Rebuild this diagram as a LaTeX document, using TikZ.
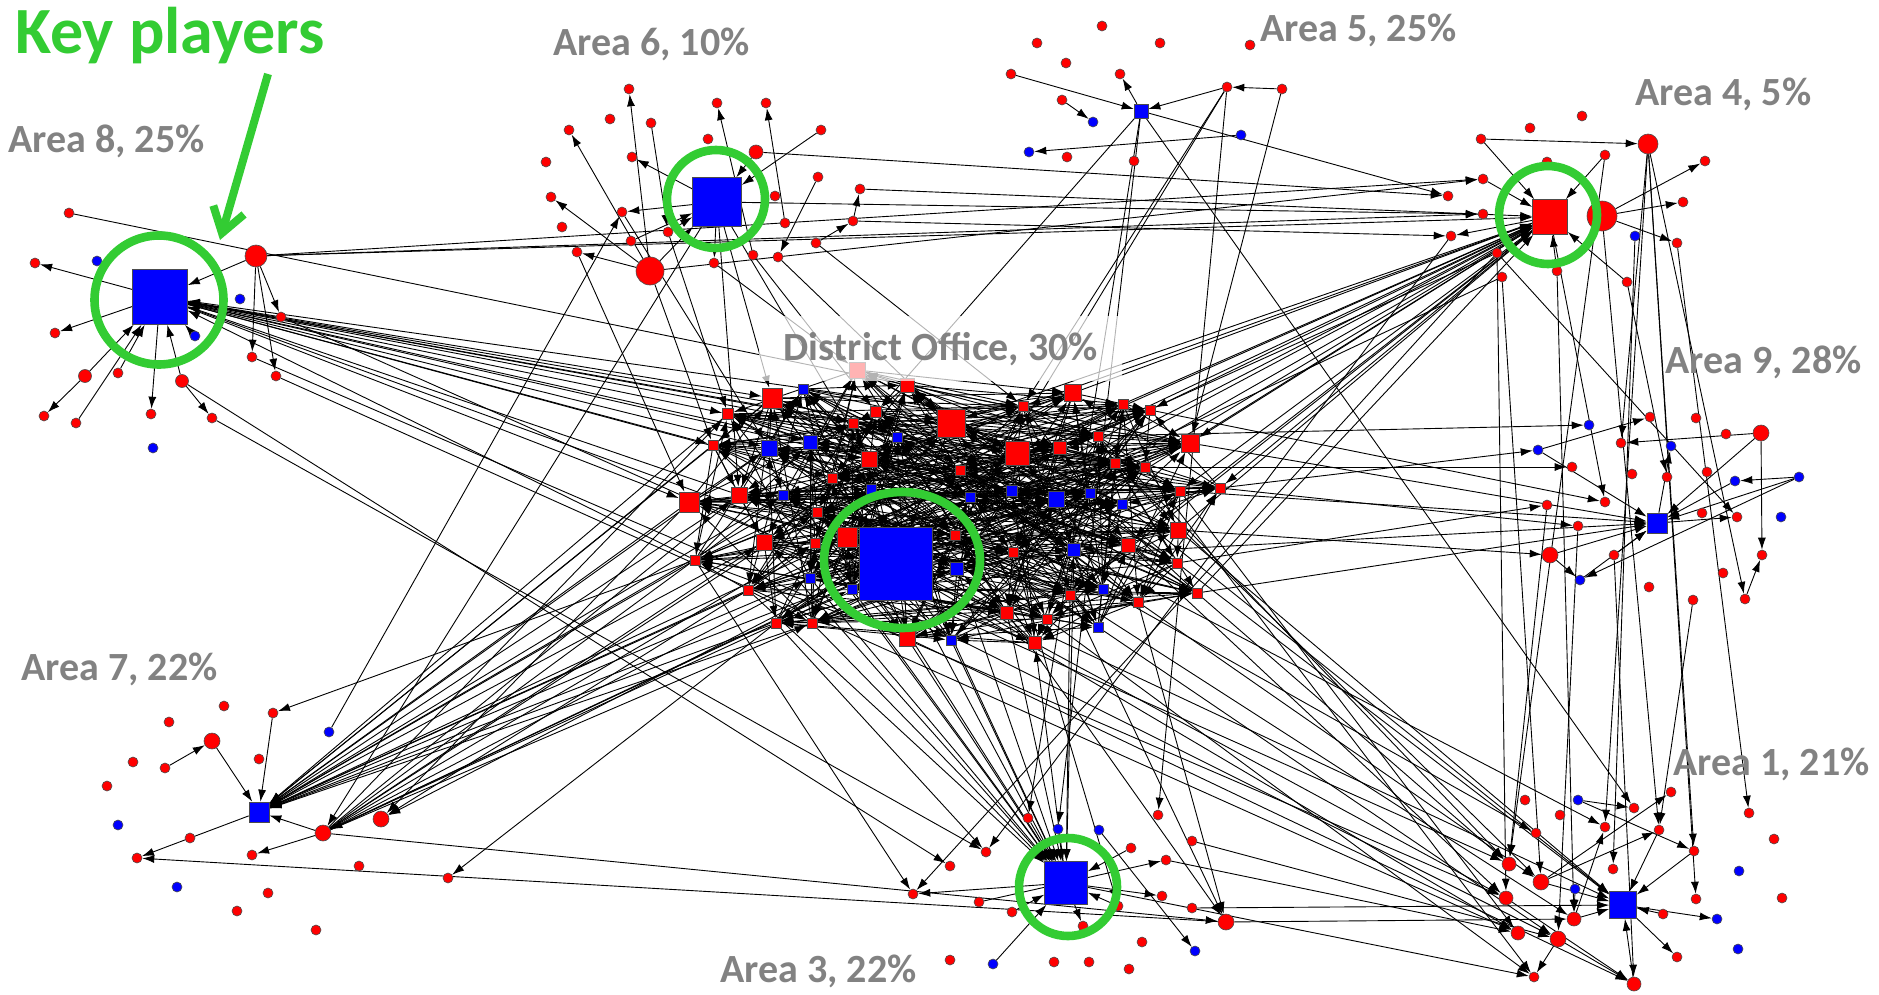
\documentclass[tikz,border=0pt]{standalone}
\usepackage{fontspec}
\setmainfont{Carlito}
\usetikzlibrary{arrows.meta}
\usetikzlibrary{shapes.geometric}
\pgfdeclarelayer{edges}
\pgfsetlayers{edges,main}
\definecolor{keygreen}{RGB}{51,204,51}
\definecolor{labelgray}{RGB}{130,130,130}
\tikzset{
  rdot/.style={circle, fill=red, draw=black!70, line width=0.3pt, inner sep=0pt, minimum size=5pt},
  bdot/.style={rdot, fill=blue},
  sq/.style={rectangle, draw=black!70, line width=0.3pt, inner sep=0pt},
  edge/.style={-{Latex[length=6pt,width=4pt]}, line width=0.45pt, black},
  arealabel/.style={font=\bfseries\fontsize{20}{24}\selectfont, text=labelgray, inner sep=0pt},
  keyring/.style={circle, draw=keygreen, line width=4.3pt, inner sep=0pt},
  keyarrow/.style={draw=keygreen, line width=4pt, -{Straight Barb[length=12pt,width=16pt]}},
}

\begin{document}
\begin{tikzpicture}[x=0.5pt, y=-0.5pt]
    \useasboundingbox (0,0) rectangle (1879,995);

    % Area 8
    \foreach \n/\x/\y/\s in {a8r1/69/213/5, a8r2/35/263/5, a8r3/256/256/11, a8r4/55/333/5, a8r5/85/376/6.5, a8r6/118/373/5, a8r7/182/381/6.5, a8r8/281/317/5, a8r9/252/357/5, a8r10/276/376/5, a8r11/44/416/5, a8r12/76/423/5, a8r13/151/414/5, a8r14/212/418/5}
        \node[rdot, minimum size=\s*1pt] (\n) at (\x,\y) {};
    \foreach \n/\x/\y in {a8b1/97/261, a8b2/240/299, a8b3/195/336, a8b4/153/448}
        \node[bdot] (\n) at (\x,\y) {};
    \node[sq, fill=blue, minimum size=27.5pt] (A8) at (160,297) {};

    % Area 6
    \foreach \n/\x/\y/\s in {a6r1/629/89/5, a6r2/610/119/5, a6r3/651/123/5, a6r4/569/130/5, a6r5/717/103/5, a6r6/766/103/5, a6r7/821/130/5, a6r8/708/139/5, a6r9/756/152/7, a6r10/546/162/5, a6r11/632/157/5, a6r12/818/177/5, a6r13/860/189/5, a6r14/551/197/5, a6r15/775/196/5, a6r16/622/212/5, a6r17/562/227/5, a6r18/668/232/5, a6r19/785/223/5, a6r20/853/221/5, a6r21/631/241/5, a6r22/816/243/5, a6r23/577/252/5, a6r24/650/271/14, a6r25/714/263/5, a6r26/753/255/5, a6r27/778/257/5}
        \node[rdot, minimum size=\s*1pt] (\n) at (\x,\y) {};
    \node[sq, fill=blue, minimum size=24.5pt] (A6) at (717,202) {};

    % Area 5
    \foreach \n/\x/\y in {a5r1/1102/26, a5r2/1037/43, a5r3/1160/43, a5r4/1250/45, a5r5/1066/63, a5r6/1011/74, a5r7/1120/74, a5r8/1227/87, a5r9/1282/89, a5r10/1062/100, a5r11/1067/157, a5r12/1134/161}
        \node[rdot] (\n) at (\x,\y) {};
    \foreach \n/\x/\y in {a5b1/1093/122, a5b2/1241/135, a5b3/1029/152}
        \node[bdot] (\n) at (\x,\y) {};
    \node[sq, fill=blue, minimum size=7pt] (A5) at (1141,111) {};

    % Area 4
    \foreach \n/\x/\y/\s in {a4r0/1602/216/15, a4r1/1648/144/10, a4r2/1481/139/5, a4r3/1530/128/5, a4r4/1582/116/5, a4r5/1605/155/5, a4r6/1705/161/5, a4r7/1483/179/5, a4r8/1448/196/5, a4r9/1483/214/5, a4r10/1451/236/5, a4r11/1683/202/5, a4r12/1677/243/5, a4r13/1497/253/5, a4r14/1502/277/5, a4r15/1557/271/5, a4r16/1627/282/5, a4r17/1547/162/5}
        \node[rdot, minimum size=\s*1pt] (\n) at (\x,\y) {};
    \node[bdot] (a4b1) at (1635,236) {};
    \node[sq, fill=red, minimum size=17.5pt] (A4) at (1550,217) {};

    % Area 9
    \foreach \n/\x/\y/\s in {a9r1/1650/417/5, a9r2/1696/418/5, a9r3/1726/434/5, a9r4/1761/433/8, a9r5/1621/443/5, a9r6/1572/467/5, a9r7/1632/474/5, a9r8/1667/477/5, a9r9/1707/472/5, a9r10/1547/505/5, a9r11/1605/502/5, a9r12/1702/513/5, a9r13/1737/517/5, a9r14/1578/526/5, a9r15/1550/555/8, a9r16/1614/555/5, a9r17/1762/555/5, a9r18/1723/573/5, a9r19/1649/587/5, a9r20/1693/600/5, a9r21/1745/599/5}
        \node[rdot, minimum size=\s*1pt] (\n) at (\x,\y) {};
    \foreach \n/\x/\y in {a9b1/1589/425, a9b2/1538/450, a9b3/1671/446, a9b4/1735/481, a9b5/1799/477, a9b6/1781/517, a9b7/1580/580}
        \node[bdot] (\n) at (\x,\y) {};
    \node[sq, fill=blue, minimum size=10pt] (A9) at (1657,523) {};

    % Area 1
    \foreach \n/\x/\y/\s in {a1r1/1671/792/5, a1r2/1634/808/5, a1r3/1749/813/5, a1r4/1605/827/5, a1r5/1659/830/5, a1r6/1536/833/5, a1r7/1774/839/5, a1r8/1694/851/5, a1r9/1509/864/7, a1r10/1613/869/5, a1r11/1541/882/8, a1r12/1506/898/7, a1r13/1696/899/5, a1r14/1782/898/5, a1r15/1663/914/5, a1r16/1574/919/7, a1r17/1518/933/7, a1r18/1558/939/8, a1r19/1677/957/5, a1r20/1534/977/5, a1r21/1634/984/7, a1r22/1525/800/5, a1r23/1560/815/5}
        \node[rdot, minimum size=\s*1pt] (\n) at (\x,\y) {};
    \foreach \n/\x/\y in {a1b1/1578/800, a1b2/1739/871, a1b3/1575/889, a1b4/1717/919, a1b5/1738/949}
        \node[bdot] (\n) at (\x,\y) {};
    \node[sq, fill=blue, minimum size=13.5pt] (A1) at (1623,905) {};

    % Area 3
    \foreach \n/\x/\y/\s in {a3r1/1028/818/5, a3r2/1158/815/5, a3r3/1192/841/5, a3r4/986/852/5, a3r5/1131/848/5, a3r6/1166/860/5, a3r7/950/866/5, a3r8/913/894/5, a3r9/979/902/5, a3r10/1012/912/5, a3r11/1162/896/5, a3r12/1192/908/5, a3r13/1118/906/5, a3r14/1083/926/5, a3r15/1226/922/8, a3r16/1142/942/5, a3r17/950/960/5, a3r18/1054/962/5, a3r19/1089/962/5, a3r20/1129/969/5}
        \node[rdot, minimum size=\s*1pt] (\n) at (\x,\y) {};
    \foreach \n/\x/\y in {a3b1/1058/829, a3b2/1099/830, a3b3/1195/951, a3b4/993/964}
        \node[bdot] (\n) at (\x,\y) {};
    \node[sq, fill=blue, minimum size=21.5pt] (A3) at (1066,883) {};

    % Area 7
    \foreach \n/\x/\y/\s in {a7r1/224/706/5, a7r2/169/722/5, a7r3/273/713/5, a7r4/212/741/8, a7r5/133/762/5, a7r6/165/768/5, a7r7/259/759/5, a7r8/107/786/5, a7r9/381/819/8, a7r10/323/833/8, a7r11/190/838/5, a7r12/137/858/5, a7r13/252/855/5, a7r14/359/866/5, a7r15/448/878/5, a7r16/268/893/5, a7r17/237/911/5, a7r18/316/930/5}
        \node[rdot, minimum size=\s*1pt] (\n) at (\x,\y) {};
    \foreach \n/\x/\y in {a7b1/329/732, a7b2/118/825, a7b3/177/887}
        \node[bdot] (\n) at (\x,\y) {};
    \node[sq, fill=blue, minimum size=10pt] (A7) at (259,812) {};

    % District Office
    \foreach \n/\x/\y/\s in {1/857/370/8, 2/907/385/7, 3/772/398/10, 4/728/414/5.5, 5/876/412/5.5, 6/1073/393/8.5, 7/951/423/14, 8/853/423/5, 9/1023/406/5, 10/1123/404/5, 11/1150/410/5, 12/1098/436/5, 13/1190/443/9, 14/713/445/5, 15/1017/453/12, 16/1060/448/6.5, 17/869/459/8, 18/1115/463/5, 19/1145/467/5, 20/960/470/5, 21/832/478/5, 22/739/495/8, 23/1180/491/5, 24/817/512/5, 25/764/542/8, 26/847/537/10, 27/955/535/5, 28/1128/545/7, 29/1178/530/8, 30/1013/552/5, 31/1177/563/5, 32/748/590/5, 33/1070/595/5, 34/1138/602/5, 35/1007/613/6.5, 36/1047/619/5, 37/812/623/5, 38/907/638/8, 39/1035/643/6.5, 40/815/543/5, 41/1197/593/5, 42/689/502/10, 43/695/560/5, 44/776/623/5, 45/1220/488/5}
        \node[sq, fill=red, minimum size=\s*1pt] (c\n) at (\x,\y) {};
    \foreach \n/\x/\y/\s in {46/803/389/5, 47/769/448/8, 48/810/442/7, 49/897/437/5, 50/783/495/5, 51/871/489/5, 52/970/497/5, 53/1012/491/5.5, 54/1056/499/8, 55/1090/493/5, 56/1122/504/5, 57/1074/550/6.5, 58/957/569/6.5, 59/810/578/5, 60/852/589/5, 61/1103/589/5, 62/1098/627/5, 63/951/640/5}
        \node[sq, fill=blue, minimum size=\s*1pt] (c\n) at (\x,\y) {};
    \node[sq, fill=blue, minimum size=36.5pt] (DO) at (896,564) {};

    \begin{pgfonlayer}{edges}
        % links inside the areas
        \foreach \src/\dst in {A8/a8r2, A8/a8r4, a8r5/A8, a8r6/A8, a8r5/a8r11, a8r12/A8, A8/a8r13, a8r7/A8, a8r7/a8r14, a8r3/a8r8, a8r3/a8r9, a8r3/a8r10, a8r3/A8, a8b3/A8,
            a6r24/a6r1, a6r24/a6r4, a6r24/a6r14, a6r24/a6r23, a6r24/A6, a6r26/a6r5, a6r19/a6r6, a6r7/A6, A6/a6r16, A6/a6r11, a6r21/A6, a6r18/A6, a6r9/A6, a6r22/a6r20, a6r20/a6r13, a6r12/a6r27, A6/a6r25, a6r3/a6r18,
            a5r6/A5, A5/a5r7, a5r10/a5b1, a5r8/A5, a5r9/a5r8, a5b2/a5b3,
            a4r2/a4r1, a4r2/A4, a4r0/a4r11, a4r0/a4r12, a4r0/a4r6, a4r5/A4, a4r7/A4, a4r16/A4, a4r15/A4, A4/a4r10,
            a9b2/a9r1, a9b2/A9, a9r4/a9r5, a9r4/A9, a9r4/a9r17, a9r21/a9r17, A9/a9b3, a9b5/a9b4, a9b4/A9, a9b5/A9, A9/a9r13, a9r15/A9, a9b7/A9, a9b5/a9b7, a9r15/a9b7, a9r16/A9,
            a1b1/a1r2, a1b1/a1r8, a1r5/A1, a1r8/A1, a1r11/a1r1, a1r11/a1r5, a1r16/a1r4, A1/a1b4, a1r15/A1, A1/a1r19, a1r18/a1r20, a1r18/a1r21, a1r16/A1, a1r11/A1, a1r21/A1, a1r12/a1r21, a1b3/a1r16,
            A3/a3r8, a3b4/A3, a3r9/a3r6, A3/a3r11, a3b2/a3b3, A3/a3r14, a3r5/A3, a3r13/A3, a3r1/A3, a3b1/A3, a3r10/A3,
            a7r6/a7r4, a7r4/A7, a7r3/A7, a7r10/A7, A7/a7r12, a7r10/a7r13}
            \draw[edge] (\src) -- (\dst);

        % links between the areas
        \foreach \src/\dst in {a8r1/c13, a8r3/a4r9, a8r3/a4r7, a8r3/A4, A6/a4r9, a6r24/a4r7, a6r13/A4, a6r20/a4r10, a6r9/a4r8,
            a8r14/a3r4, a8r9/a1r12, a8r10/a1r17, a8r7/a3r7, a8r8/a1r9,
            a4r13/A7, A4/a7r9, a4r14/a7r10, a4r13/a3r8, a4r10/a3r4,
            a4r1/a1r8, a4r1/a1r4, a4r1/a9r21, a4r5/a1r9, a4r0/a1r5, A4/a9r11, a4r12/a1r3, a4r16/a9r8, a4r15/a1r16, a4r1/a9r5, a4r13/a1r12, a4b1/a1r10, a4r13/a9r13, a4r14/a1r11, a4r1/a1r13,
            A5/a4r8, A5/a3r1, A5/a3b1, A5/c5, a5r8/c9, a5r8/c27, a5r8/a3r2, A5/a1r2, a5r9/c13,
            a3r15/a1r16, a3r3/a1r18, A3/a1r20, a3r12/A1, a3r6/a1r17,
            a3r15/a7r12, a7r10/a3r15, c44/a7r15, c32/a7r9, c42/a7r9, c43/a7r3, A6/a7r10, a7b1/a6r16,
            a9r10/a1r9, a9r14/a1r18, a9r16/a1r21, a9r20/a1r5,
            a6r18/c4, a6r25/c1, a6r26/c5, a6r27/c7, a6r22/c9, A6/c17, A6/c3, a6r24/c14, a6r23/c42, A6/c22, a6r16/c47,
            c45/a9b2, c29/a9r15, c31/a9r10, c19/a9r6, c12/a9b1, c11/a9r11, c45/a9r14,
            c41/a1r9, c34/a1r11, c28/a1r12, c33/a1r16, c26/a1r17, c25/a1r18, c38/a1r21, c57/a1r4, c61/a1r6, c62/a1r18, c36/a1r20, c39/a1r12, c23/a1r17, c19/a1r20, c18/a1r11, c12/a1r9,
            c44/a3r4, c43/a3r8, c33/a3r15, c35/a3r15, c34/a3r15, c30/a3r13}
            \draw[edge] (\src) -- (\dst);

        % fans from the district office
        \foreach \h/\lst in {A7/{3,4,14,21,22,25,26,32,37,42,43,44,47,50,59}, A8/{13,19,22,23,29,43,45}, A4/{6,9,10,15,16,28,29,30,41,54,55}, A3/{17,25,26,32,33,35,37,38,40,57,58,59,60,63}, A1/{29,31,56}, A9/{13,23,41}}
            \foreach \i in \lst
                \draw[edge] (c\i) -- (\h);
        \foreach \h/\lst in {A8/{3,4,8,14,21,42,47,48}, A4/{7,11,13,23,33,45}, a7r10/{4,22,24,25,37,40,50,59,60}, A3/{39}}
            \foreach \i in \lst
                \draw[edge] (\h) -- (c\i);
        \foreach \i in {3,13,15,22,38,54,20,58}
            \draw[edge] (DO) -- (c\i);
        \foreach \i in {7,17,25,26,48,51,60}
            \draw[edge] (c\i) -- (DO);
        \foreach \h in {A4,A9,A7,A3,A1}
            \draw[edge] (DO) -- (\h);
        \draw[edge] (A8) -- (DO);
        \draw[edge] (a7r10) -- (DO);

        % the dense core
        \foreach \i in {1,...,63}{
            \foreach \k in {3,5,8,11,14,19,24,29}{
                \pgfmathtruncatemacro\j{mod(\i+\k-1,63)+1}
                \draw[edge] (c\i) -- (c\j);
            }
        }
    \end{pgfonlayer}

    % Labels
    \node[arealabel, anchor=base west] (l8) at (8,153) {Area 8, 25\%};
    \node[arealabel, anchor=base west] (l6) at (553,56) {Area 6, 10\%};
    \node[arealabel, anchor=base west] (l5) at (1260,42) {Area 5, 25\%};
    \node[arealabel, anchor=base west] (l4) at (1635,105) {Area 4, 5\%};
    \node[arealabel, anchor=base west, fill=white, fill opacity=0.7, text opacity=1, inner xsep=12pt, inner ysep=8pt] (ldo) at (759,360) {District Office, 30\%};
    \node[arealabel, anchor=base west] (l9) at (1665,373) {Area 9, 28\%};
    \node[arealabel, anchor=base east] (l7) at (218,680) {Area 7, 22\%};
    \node[arealabel, anchor=base east] (l1) at (1870,775) {Area 1, 21\%};
    \node[arealabel, anchor=base east] (l3) at (917,982) {Area 3, 22\%};

    % Key players
    \node[font=\bfseries\fontsize{33}{40}\selectfont, text=keygreen, anchor=base west, inner sep=0pt] (keytext) at (15,54) {Key players};
    \node[keyring, minimum size=64.5pt] (k8) at (159,300) {};
    \node[keyring, minimum size=49pt] (k6) at (716,199) {};
    \node[keyring, minimum size=49pt] (k4) at (1548,215) {};
    \node[keyring, minimum size=49pt] (k3) at (1068,887) {};
    \node[keyring, ellipse, minimum width=78pt, minimum height=68pt] (kdo) at (902,560) {};
    \coordinate (kpstart) at (268,74);
    \coordinate (kpend) at (220,240);
    \draw[keyarrow] (kpstart) -- (kpend);
\end{tikzpicture}
\end{document}
